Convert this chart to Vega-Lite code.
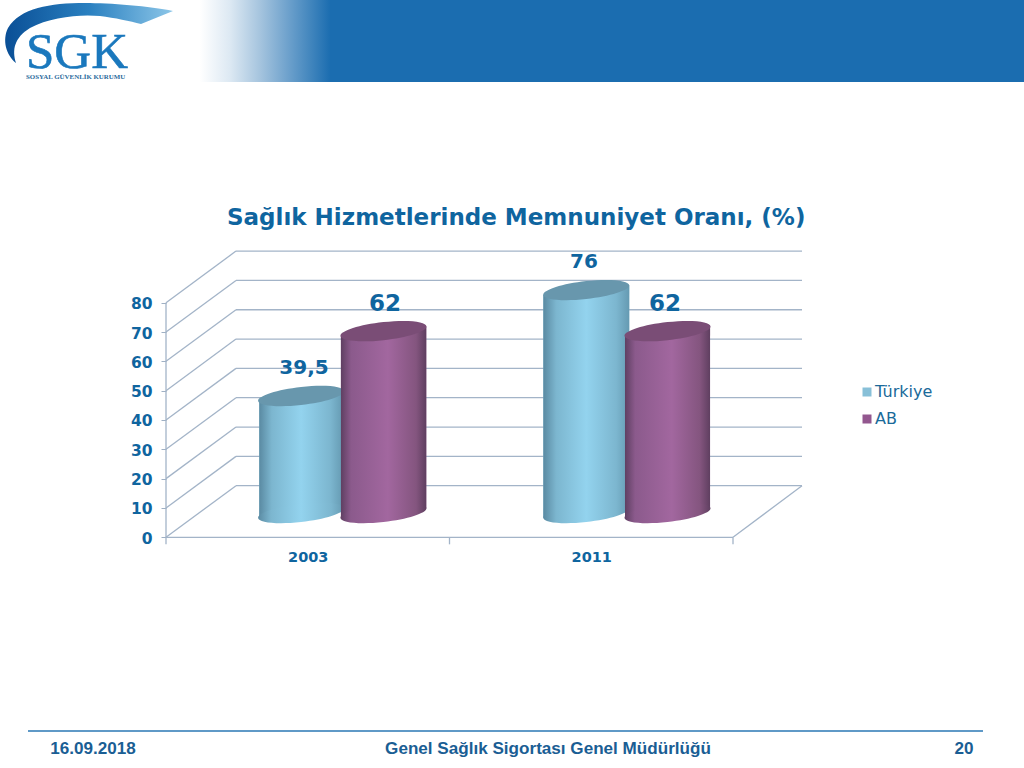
{
"$schema":"https://vega.github.io/schema/vega-lite/v6.json",
"width":1024,"height":768,"autosize":"none","padding":0,"background":"white",
"title":{"text":"Sağlık Hizmetlerinde Memnuniyet Oranı, (%)","anchor":"start","frame":"group","dx":227,"offset":-230,"font":"DejaVu Sans","fontWeight":"bold","fontSize":23,"color":"#0f659f"},
"config":{"view":{"stroke":null},"legend":{"symbolType":"square"}},
"datasets":{
"header":[{"x":0.1199,"x2":3.03,"y":155.26,"y2":183.3}],
"swoosh":[{"x":-0.2716,"y":171.97}],
"logo":[{"x":-0.4939,"y":160.0,"t":"SGK"}],
"logosub":[{"x":-0.4939,"y":157.0,"t":"SOSYAL GÜVENLİK KURUMU"}],
"footline":[{"x":-0.4868,"x2":2.8818,"y":-66.03,"y2":-66.03}],
"foot":[{"x":-0.2575,"y":-72.19,"t":"16.09.2018"},{"x":1.3474,"y":-72.19,"t":"Genel Sağlık Sigortası Genel Müdürlüğü"},{"x":2.8148,"y":-72.19,"t":"20"}],
"grid":[
{"x":0,"y":0,"x2":0,"y2":80},{"x":0,"y":0,"x2":2,"y2":0},{"x":2,"y":0,"x2":2.2434,"y2":17.6},
{"x":0,"y":0,"x2":0,"y2":-2.4},{"x":1,"y":0,"x2":1,"y2":-2.4},{"x":2,"y":0,"x2":2,"y2":-2.4},
{"x":0,"y":0,"x2":0.2469,"y2":17.6},{"x":0.2469,"y":17.6,"x2":2.2434,"y2":17.6},
{"x":0,"y":10,"x2":0.2469,"y2":27.6},{"x":0.2469,"y":27.6,"x2":2.2434,"y2":27.6},
{"x":0,"y":20,"x2":0.2469,"y2":37.6},{"x":0.2469,"y":37.6,"x2":2.2434,"y2":37.6},
{"x":0,"y":30,"x2":0.2469,"y2":47.6},{"x":0.2469,"y":47.6,"x2":2.2434,"y2":47.6},
{"x":0,"y":40,"x2":0.2469,"y2":57.6},{"x":0.2469,"y":57.6,"x2":2.2434,"y2":57.6},
{"x":0,"y":50,"x2":0.2469,"y2":67.6},{"x":0.2469,"y":67.6,"x2":2.2434,"y2":67.6},
{"x":0,"y":60,"x2":0.2469,"y2":77.6},{"x":0.2469,"y":77.6,"x2":2.2434,"y2":77.6},
{"x":0,"y":70,"x2":0.2469,"y2":87.6},{"x":0.2469,"y":87.6,"x2":2.2434,"y2":87.6},
{"x":0,"y":80,"x2":0.2469,"y2":97.6},{"x":0.2469,"y":97.6,"x2":2.2434,"y2":97.6}
],
"bodies":[
{"bar":"T2003","series":"Türkiye","x":0.329,"y":46.6,"y2":6.7},{"bar":"T2003","series":"Türkiye","x":0.624,"y":49.8,"y2":9.9},
{"bar":"A2003","series":"AB","x":0.617,"y":68.7,"y2":6.7},{"bar":"A2003","series":"AB","x":0.918,"y":71.9,"y2":9.9},
{"bar":"T2011","series":"Türkiye","x":1.331,"y":82.7,"y2":6.7},{"bar":"T2011","series":"Türkiye","x":1.634,"y":85.9,"y2":9.9},
{"bar":"A2011","series":"AB","x":1.619,"y":68.7,"y2":6.7},{"bar":"A2011","series":"AB","x":1.919,"y":71.9,"y2":9.9}
],
"tops":[
{"series":"Türkiye","x":0.4765,"y":48.2},{"series":"AB","x":0.767,"y":70.3},
{"series":"Türkiye","x":1.4825,"y":84.3},{"series":"AB","x":1.769,"y":70.3}
],
"bottoms":[
{"series":"Türkiye","x":0.4765,"y":8.3},{"series":"AB","x":0.767,"y":8.3},
{"series":"Türkiye","x":1.4825,"y":8.3},{"series":"AB","x":1.769,"y":8.3}
],
"labels":[
{"x":0.4868,"y":57.7,"value":39.5,"t":"39,5","big":"n"},
{"x":0.7725,"y":79.6,"value":62,"t":"62","big":"y"},
{"x":1.4744,"y":93.9,"value":76,"t":"76","big":"n"},
{"x":1.7601,"y":79.6,"value":62,"t":"62","big":"y"}
]
},
"encoding":{
"x":{"field":"x","type":"quantitative","title":null,"scale":{"domain":[-0.58554,3.02646],"nice":false,"zero":false},
 "axis":{"orient":"bottom","offset":-230.7,"values":[0.5,1.5],"labelExpr":"datum.value==0.5?'2003':'2011'","ticks":false,"domain":false,"grid":false,"labelFont":"DejaVu Sans","labelFontWeight":"bold","labelFontSize":14.5,"labelColor":"#0f659f","labelPadding":13}},
"y":{"field":"y","type":"quantitative","title":null,"scale":{"domain":[-78.67,183.22],"nice":false,"zero":false},
 "axis":{"orient":"left","offset":-166,"values":[0,10,20,30,40,50,60,70,80],"domain":false,"grid":false,"tickSize":5,"tickColor":"#9fb0c4","labelFont":"DejaVu Sans","labelFontWeight":"bold","labelFontSize":15.5,"labelColor":"#0f659f","labelPadding":9,"labelOffset":1}}
},
"layer":[
{"data":{"name":"header"},"mark":{"type":"rect","fill":{"x1":0,"x2":1,"y1":0,"y2":0,"gradient":"linear","stops":[{"offset":0,"color":"#ffffff"},{"offset":0.036,"color":"#dde9f3"},{"offset":0.073,"color":"#a5c4de"},{"offset":0.109,"color":"#6a9fcb"},{"offset":0.158,"color":"#1b6db0"},{"offset":1,"color":"#1b6db0"}]}},"encoding":{"x2":{"field":"x2"},"y2":{"field":"y2"}}},
{"data":{"name":"swoosh"},"mark":{"type":"point","filled":true,"opacity":1,"size":40000,"shape":"M.84,-.22C.61,-.27,.21,-.30,-.04,-.30C-.39,-.30,-.69,-.25,-.81,-.05C-.87,.07,-.83,.22,-.73,.30C-.77,.17,-.75,.05,-.59,-.05C-.39,-.16,-.09,-.19,.11,-.17C.26,-.15,.41,-.12,.52,-.09Z","fill":{"x1":0,"x2":1,"y1":0,"y2":0,"gradient":"linear","stops":[{"offset":0,"color":"#0a4f96"},{"offset":0.5,"color":"#2a80c0"},{"offset":1,"color":"#8cc6e8"}]}}},
{"data":{"name":"logo"},"mark":{"type":"text","align":"left","baseline":"alphabetic","font":"Liberation Serif","fontSize":51,"color":"#1a78bd","stroke":"#1a78bd","strokeWidth":0.6},"encoding":{"text":{"field":"t"}}},
{"data":{"name":"logosub"},"mark":{"type":"text","align":"left","baseline":"middle","font":"Liberation Serif","fontWeight":"bold","fontSize":6.9,"color":"#2a6a9c"},"encoding":{"text":{"field":"t"}}},
{"data":{"name":"footline"},"mark":{"type":"rule","color":"#2a77b5","strokeWidth":1.5},"encoding":{"x2":{"field":"x2"},"y2":{"field":"y2"}}},
{"data":{"name":"foot"},"mark":{"type":"text","align":"center","baseline":"middle","font":"Liberation Sans","fontWeight":"bold","fontSize":17.1,"color":"#1a5e94"},"encoding":{"text":{"field":"t"}}},
{"data":{"name":"grid"},"mark":{"type":"rule","color":"#a3b4c8","strokeWidth":1.3},"encoding":{"x2":{"field":"x2"},"y2":{"field":"y2"}}},
{"data":{"name":"bodies"},"mark":{"type":"area","opacity":1},"encoding":{"y2":{"field":"y2"},"detail":{"field":"bar"},"color":{"field":"series","type":"nominal","scale":{"domain":["Türkiye","AB"],"range":["#88c0d8","#93578f"]},
"legend":{"title":null,"orient":"none","legendX":859,"legendY":384,"symbolType":"square","symbolSize":81,"symbolStrokeWidth":0,"rowPadding":11,"labelFont":"DejaVu Sans","labelFontSize":16,"labelColor":"#1a6a9a","labelOffset":0}}}},
{"data":{"name":"bodies"},"transform":[{"filter":"datum.series==='Türkiye'"}],"mark":{"type":"area","opacity":1,"fill":{"x1":0,"x2":1,"y1":0,"y2":0,"gradient":"linear","stops":[{"offset":0,"color":"#5a8aa2"},{"offset":0.15,"color":"#7cb6cf"},{"offset":0.5,"color":"#93d3ee"},{"offset":0.85,"color":"#7cb6cf"},{"offset":1,"color":"#659ab2"}]}},"encoding":{"y2":{"field":"y2"},"detail":{"field":"bar"}}},
{"data":{"name":"bottoms"},"transform":[{"filter":"datum.series==='Türkiye'"}],"mark":{"type":"point","filled":true,"opacity":1,"size":7400,"fill":{"x1":0,"x2":1,"y1":0,"y2":0,"gradient":"linear","stops":[{"offset":0,"color":"#5a8aa2"},{"offset":0.15,"color":"#7cb6cf"},{"offset":0.5,"color":"#93d3ee"},{"offset":0.85,"color":"#7cb6cf"},{"offset":1,"color":"#659ab2"}]},"shape":"M1,-.11C1,.006,.5523,.149,0,.21C-.5523,.271,-1,.226,-1,.11C-1,-.006,-.5523,-.149,0,-.21C.5523,-.271,1,-.226,1,-.11Z"}},
{"data":{"name":"tops"},"transform":[{"filter":"datum.series==='Türkiye'"}],"mark":{"type":"point","filled":true,"opacity":1,"size":7400,"fill":"#6897ad","shape":"M1,-.11C1,.006,.5523,.149,0,.21C-.5523,.271,-1,.226,-1,.11C-1,-.006,-.5523,-.149,0,-.21C.5523,-.271,1,-.226,1,-.11Z"}},
{"data":{"name":"bodies"},"transform":[{"filter":"datum.series==='AB'"}],"mark":{"type":"area","opacity":1,"fill":{"x1":0,"x2":1,"y1":0,"y2":0,"gradient":"linear","stops":[{"offset":0,"color":"#5f3f62"},{"offset":0.12,"color":"#8b5a8c"},{"offset":0.55,"color":"#a2679f"},{"offset":0.88,"color":"#84557f"},{"offset":1,"color":"#5f3f60"}]}},"encoding":{"y2":{"field":"y2"},"detail":{"field":"bar"}}},
{"data":{"name":"bottoms"},"transform":[{"filter":"datum.series==='AB'"}],"mark":{"type":"point","filled":true,"opacity":1,"size":7400,"fill":{"x1":0,"x2":1,"y1":0,"y2":0,"gradient":"linear","stops":[{"offset":0,"color":"#5f3f62"},{"offset":0.12,"color":"#8b5a8c"},{"offset":0.55,"color":"#a2679f"},{"offset":0.88,"color":"#84557f"},{"offset":1,"color":"#5f3f60"}]},"shape":"M1,-.11C1,.006,.5523,.149,0,.21C-.5523,.271,-1,.226,-1,.11C-1,-.006,-.5523,-.149,0,-.21C.5523,-.271,1,-.226,1,-.11Z"}},
{"data":{"name":"tops"},"transform":[{"filter":"datum.series==='AB'"}],"mark":{"type":"point","filled":true,"opacity":1,"size":7400,"fill":"#7a4d76","shape":"M1,-.11C1,.006,.5523,.149,0,.21C-.5523,.271,-1,.226,-1,.11C-1,-.006,-.5523,-.149,0,-.21C.5523,-.271,1,-.226,1,-.11Z"}},
{"data":{"name":"labels"},"mark":{"type":"text","align":"center","baseline":"middle","font":"DejaVu Sans","fontWeight":"bold","color":"#0f659f"},"encoding":{"text":{"field":"t"},"size":{"field":"big","type":"nominal","legend":null,"scale":{"domain":["n","y"],"range":[20,23]}}}}
]
}
